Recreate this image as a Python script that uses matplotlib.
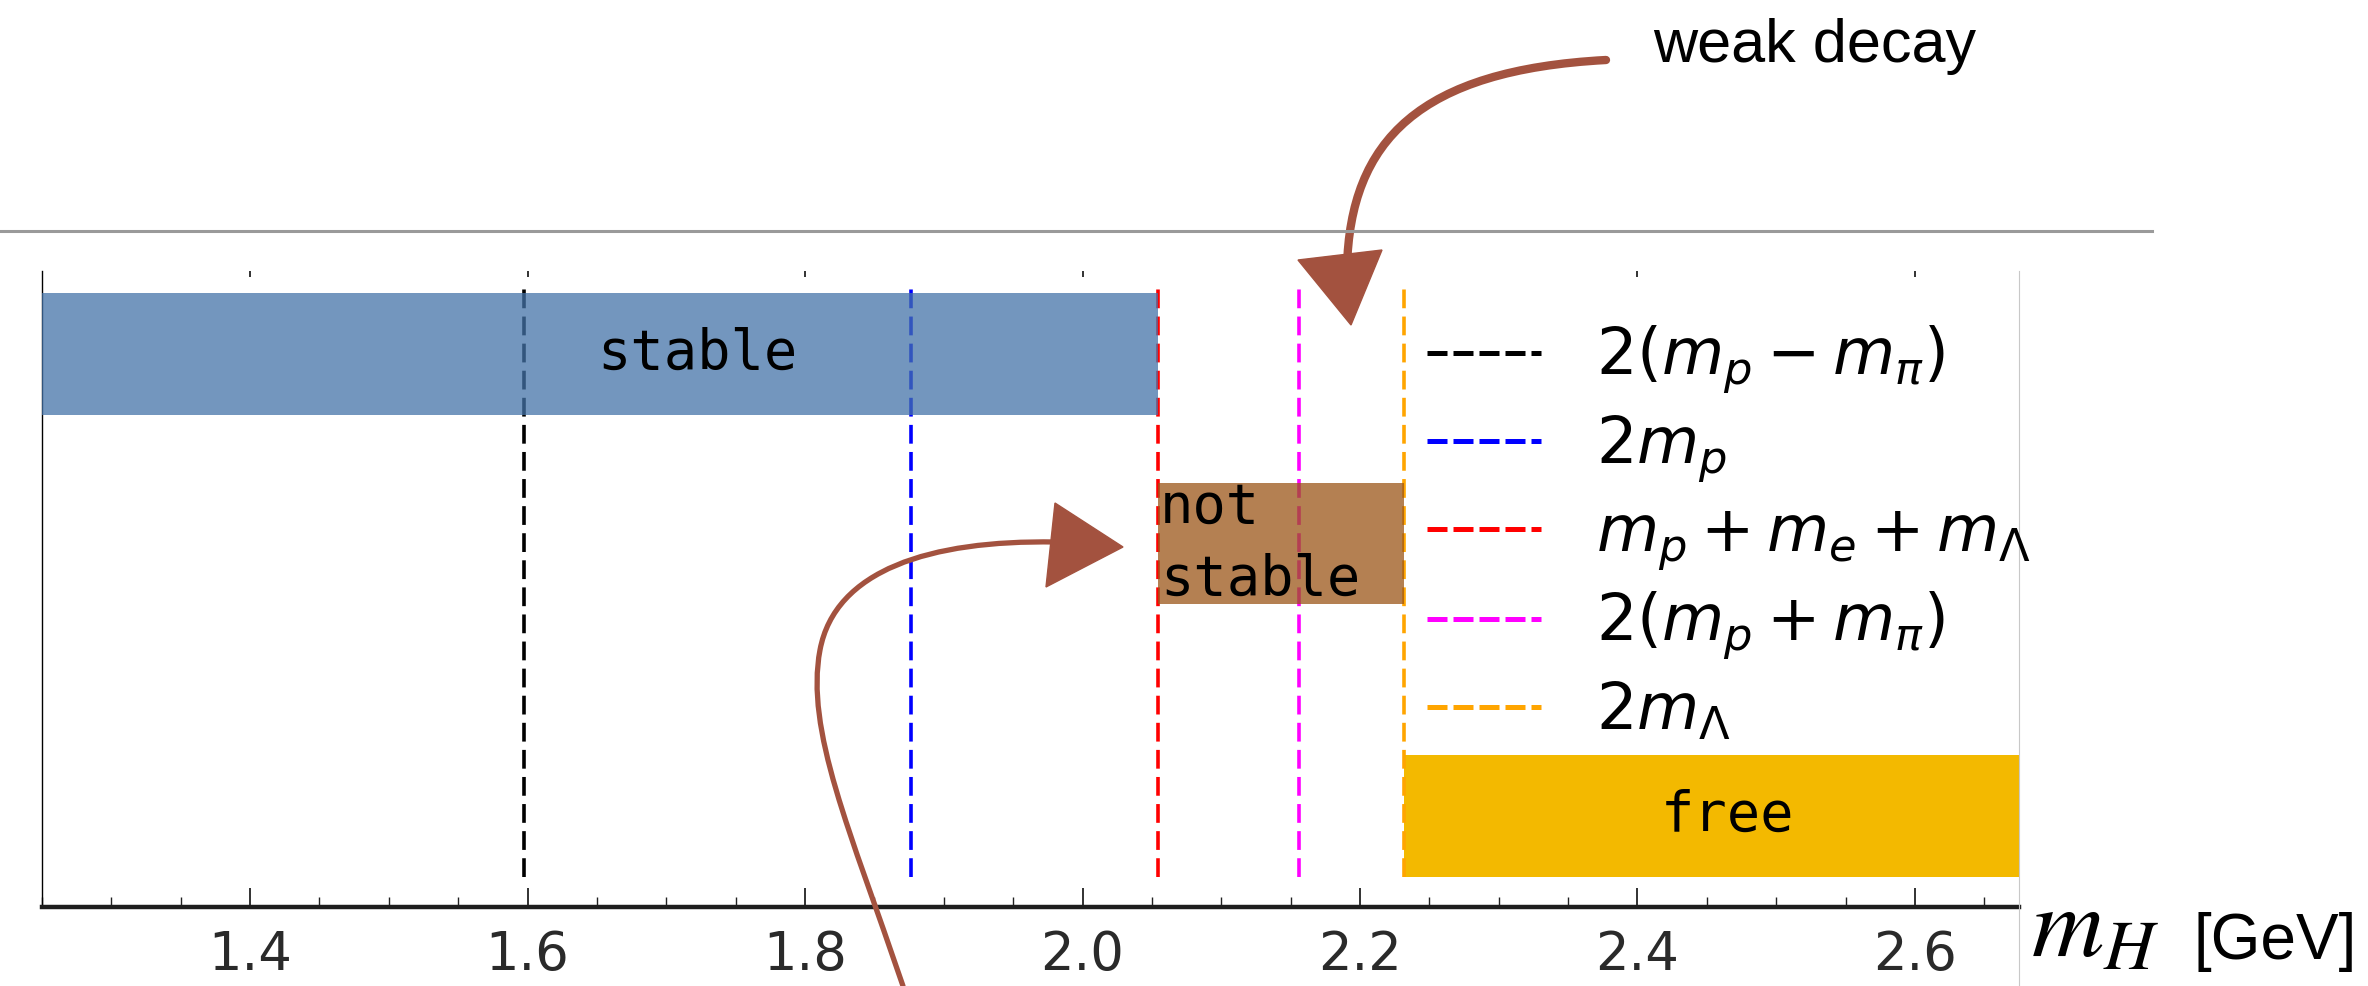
import matplotlib
matplotlib.use('Agg')
import matplotlib.pyplot as plt
from matplotlib.patches import PathPatch, Polygon
from matplotlib.path import Path
from matplotlib.lines import Line2D
from matplotlib.ticker import MultipleLocator

# ---------------- data ----------------
threshold_labels = [r'$2(m_p - m_\pi)$', r'$2m_p$', r'$m_p + m_e + m_\Lambda$',
                    r'$2(m_p + m_\pi)$', r'$2m_\Lambda$']
threshold_values = [1.5974, 1.8765, 2.0545, 2.1557, 2.2314]
threshold_colors = ['black', 'blue', 'red', 'magenta', 'orange']

region_labels = ['stable', 'not\nstable', 'free']
region_start = [1.25, 2.0545, 2.2314]
region_end = [2.0545, 2.2314, 2.675]
region_bottom = [0.774, 0.476, 0.047]
region_top = [0.965, 0.667, 0.239]
region_colors = ['#4473a8', '#9b5518', '#f3b900']
region_alpha = [0.75, 0.75, 1.0]
region_text_x = [1.65, 2.056, 2.465]
region_text_ha = ['left', 'left', 'center']

x_ticks = [1.4, 1.6, 1.8, 2.0, 2.2, 2.4, 2.6]
x_tick_labels = ['1.4', '1.6', '1.8', '2.0', '2.2', '2.4', '2.6']
x_min, x_max = 1.25, 2.675

annotation_text = 'weak decay'
xlabel_math = r'$m_H$'
xlabel_unit = '[GeV]'

# ---------------- figure ----------------
W, H = 2368, 986
fig = plt.figure(figsize=(W / 100, H / 100), dpi=100)


def fx(px):
    return px / W


def fy(py):
    return 1 - py / H


ax = fig.add_axes([fx(42), fy(907), (2019 - 42) / W, (907 - 271) / H])
ax.set_xlim(x_min, x_max)
ax.set_ylim(0, 1)

for v, c in zip(threshold_values, threshold_colors):
    ax.axvline(v, ymin=0.047, ymax=0.978, color=c, lw=2.6,
               linestyle=(0, (5.2, 2.3)), zorder=2)

for lab, s, e, b, t, col, al, tx, ha in zip(region_labels, region_start, region_end,
                                            region_bottom, region_top, region_colors,
                                            region_alpha, region_text_x, region_text_ha):
    ax.barh((b + t) / 2, e - s, left=s, height=t - b, color=col, alpha=al,
            zorder=3 if al < 1 else 1, linewidth=0)
    ax.text(tx, (b + t) / 2, lab, family='DejaVu Sans Mono', fontsize=40,
            ha=ha, va='center', linespacing=1.42, zorder=4, color='black')

ax.set_yticks([])
ax.set_xticks(x_ticks)
ax.set_xticklabels(x_tick_labels)
ax.xaxis.set_minor_locator(MultipleLocator(0.05))
ax.tick_params(axis='x', which='major', direction='in', length=14, width=1.3,
               labelsize=38, pad=16, color='#222222', labelcolor='#2a2a2a', top=True)
ax.tick_params(axis='x', which='minor', direction='in', length=7, width=1.0,
               color='#222222', top=False)
for tk in ax.xaxis.get_major_ticks():
    tk.tick2line.set_markersize(4)
    tk.tick2line.set_color('#555555')

ax.spines['top'].set_visible(False)
ax.spines['right'].set_visible(False)
ax.spines['left'].set_linewidth(1.0)
ax.spines['left'].set_color('black')
ax.spines['bottom'].set_linewidth(3.2)
ax.spines['bottom'].set_color('#1e1e1e')

handles = [Line2D([0], [0], color=c, lw=3.6, linestyle=(0, (4.0, 1.2)))
           for c in threshold_colors]
fig.legend(handles, threshold_labels, loc='upper left',
           bbox_to_anchor=(fx(1427), fy(324)), bbox_transform=fig.transFigure,
           frameon=False, fontsize=46, handlelength=1.78, handletextpad=0.87,
           labelspacing=0.27, borderpad=0, borderaxespad=0)

# slide decorations
fig.add_artist(Line2D([0, fx(2152)], [fy(231), fy(231)], transform=fig.transFigure,
                      color='#9a9a9a', lw=2.2))
fig.add_artist(Line2D([fx(2019), fx(2019)], [fy(271), 0], transform=fig.transFigure,
                      color='#c8c8c8', lw=0.8))

arrow_col = '#a3523f'


def pts(lst):
    return [(fx(x), fy(y)) for x, y in lst]


p1 = Path(pts([(1606, 60), (1420, 70), (1350, 140), (1347, 268)]),
          [Path.MOVETO, Path.CURVE4, Path.CURVE4, Path.CURVE4])
fig.add_artist(PathPatch(p1, transform=fig.transFigure, fill=False,
                         edgecolor=arrow_col, lw=6, capstyle='round'))
fig.add_artist(Polygon(pts([(1298, 260), (1382, 250), (1351, 325)]), closed=True,
                       transform=fig.transFigure, color=arrow_col))

p2 = Path(pts([(903, 986), (850, 830), (805, 730), (820, 650),
               (835, 570), (930, 540), (1055, 542)]),
          [Path.MOVETO, Path.CURVE4, Path.CURVE4, Path.CURVE4,
           Path.CURVE4, Path.CURVE4, Path.CURVE4])
fig.add_artist(PathPatch(p2, transform=fig.transFigure, fill=False,
                         edgecolor=arrow_col, lw=3.8, capstyle='round'))
fig.add_artist(Polygon(pts([(1055, 503), (1046, 587), (1123, 547)]), closed=True,
                       transform=fig.transFigure, color=arrow_col))

fig.text(fx(1653), fy(62), annotation_text, family='Liberation Sans', fontsize=44,
         ha='left', va='baseline', color='black')
fig.text(fx(2031), fy(957), xlabel_math, fontsize=72, math_fontfamily='stix',
         ha='left', va='baseline', color='black')
fig.text(fx(2194), fy(959), xlabel_unit, family='Liberation Sans',
         fontsize=46, ha='left', va='baseline', color='black')

fig.savefig('out.png', dpi=100)
